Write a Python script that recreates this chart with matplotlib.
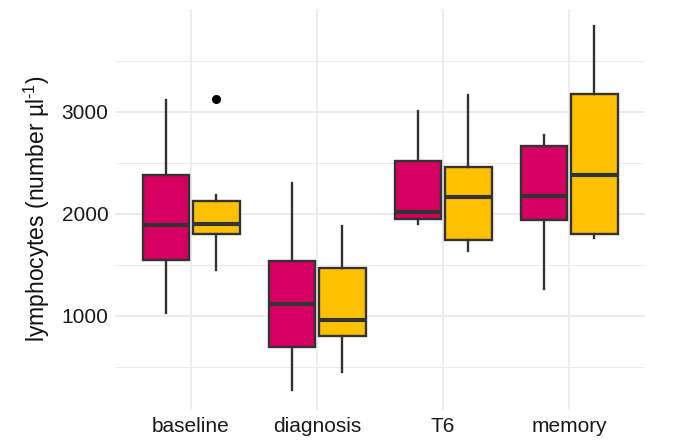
import matplotlib.pyplot as plt
import numpy as np

plt.rcParams['font.family'] = ['Liberation Sans', 'DejaVu Sans']
plt.rcParams['mathtext.fontset'] = 'custom'
plt.rcParams['mathtext.rm'] = 'Liberation Sans'
plt.rcParams['mathtext.it'] = 'Liberation Sans:italic'
plt.rcParams['mathtext.bf'] = 'Liberation Sans:bold'

categories = ['baseline', 'diagnosis', 'T6', 'memory']

# five-number summaries: whislo, q1, med, q3, whishi
group_a = [
    [1032, 1549, 1892, 2382, 3118],
    [275, 699, 1118, 1542, 2301],
    [1899, 1954, 2016, 2520, 3010],
    [1261, 1935, 2176, 2660, 2768],
]
group_b = [
    [1451, 1801, 1899, 2127, 2180],
    [454, 804, 961, 1474, 1882],
    [1637, 1745, 2160, 2458, 3167],
    [1762, 1801, 2382, 3173, 3836],
]
outliers_b = [[3127], [], [], []]

col_a = '#D60062'
col_b = '#FFC000'
edge = '#333333'


def make_stats(rows, fliers=None):
    out = []
    for i, r in enumerate(rows):
        out.append(dict(whislo=r[0], q1=r[1], med=r[2], q3=r[3], whishi=r[4],
                        fliers=fliers[i] if fliers else []))
    return out


fig = plt.figure(figsize=(6.75, 4.44), dpi=100)
ax = fig.add_axes([0.171, 0.0775, 0.784, 0.9025])

x = np.arange(1, len(categories) + 1)
for stats, off, col in [(make_stats(group_a), -0.2, col_a),
                        (make_stats(group_b, outliers_b), 0.2, col_b)]:
    ax.bxp(stats, positions=x + off, widths=0.37, patch_artist=True,
           showcaps=False, manage_ticks=False,
           boxprops=dict(facecolor=col, edgecolor=edge, linewidth=1.7),
           medianprops=dict(color=edge, linewidth=3),
           whiskerprops=dict(color=edge, linewidth=1.7),
           flierprops=dict(marker='o', markerfacecolor='black',
                           markeredgecolor='black', markersize=5.5),
           zorder=3)

ax.set_xlim(0.4, 4.6)
ax.set_ylim(82, 4008)
ax.set_xticks(x)
ax.set_xticklabels(categories)
ax.set_yticks([1000, 2000, 3000])
ax.set_yticks([500, 1500, 2500, 3500], minor=True)

ax.grid(which='major', color='#EBEBEB', linewidth=1.3)
ax.grid(which='minor', axis='y', color='#EBEBEB', linewidth=0.7)
ax.set_axisbelow(True)
for s in ax.spines.values():
    s.set_visible(False)
ax.tick_params(which='both', length=0, labelsize=15, colors='#1a1a1a', pad=5)

ax.set_ylabel(r'lymphocytes (number µl$^{\text{-1}}$)', fontsize=16.5,
              color='#111111', labelpad=7)

fig.savefig('out.png', dpi=100)
